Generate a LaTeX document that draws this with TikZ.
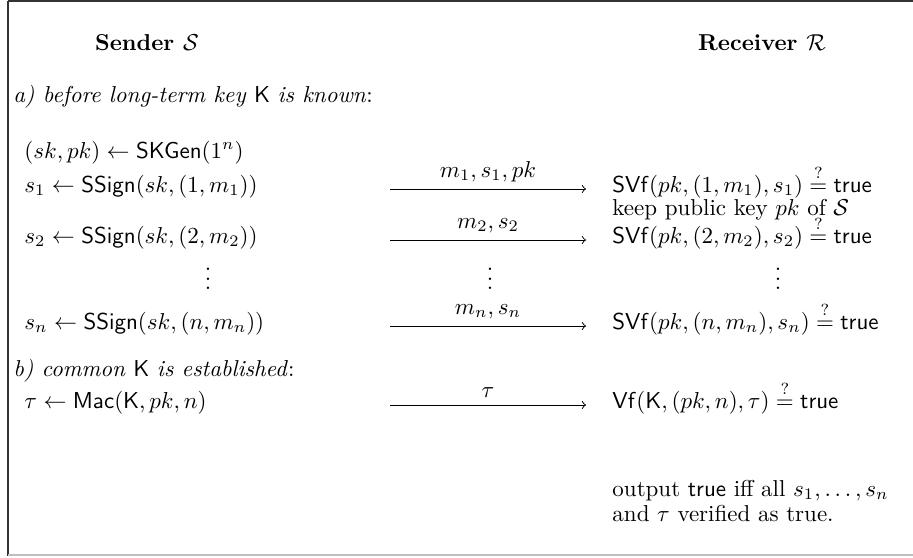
\documentclass[tikz,border=0pt]{standalone}
\usepackage{amsmath,amssymb}
\begin{document}
\begin{tikzpicture}[x=0.4348pt,y=-0.4348pt,
  txt/.style={anchor=base west,inner sep=0pt},
  hdr/.style={anchor=base,inner sep=0pt,font=\bfseries},
  dts/.style={anchor=center,inner sep=0pt},
  msg/.style={->,line width=0.4pt},
  lbl/.style={midway,above,inner sep=0pt,yshift=3pt}]
\useasboundingbox (0,0) rectangle (913,557);
\draw[line width=0.9pt,black!80] (8,1) -- (913,1);
\draw[line width=0.9pt,black!80] (8,1) -- (8,556);
\draw[line width=0.6pt,black!25] (8,555) -- (913,555);

\node[hdr] (hs) at (147,50) {Sender $\mathcal{S}$};
\node[hdr] (hr) at (762,50) {Receiver $\mathcal{R}$};

\node[txt] (pa) at (13,102) {\textit{a) before long-term key} $\mathsf{K}$ \textit{is known}:};
\node[txt] (kg) at (24,158) {$(sk,pk)\leftarrow\mathsf{SKGen}(1^n)$};

\node[txt] (l1) at (24,192) {$s_1\leftarrow\mathsf{SSign}(sk,(1,m_1))$};
\node[txt] (r1) at (612,192) {$\mathsf{SVf}(pk,(1,m_1),s_1)\stackrel{?}{=}\mathsf{true}$};
\node[txt] (kp) at (612,215) {keep public key $pk$ of $\mathcal{S}$};

\node[txt] (l2) at (24,243) {$s_2\leftarrow\mathsf{SSign}(sk,(2,m_2))$};
\node[txt] (r2) at (612,243) {$\mathsf{SVf}(pk,(2,m_2),s_2)\stackrel{?}{=}\mathsf{true}$};

\node[dts] (d1) at (208,272) {$\vdots$};
\node[dts] (d2) at (490,272) {$\vdots$};
\node[dts] (d3) at (778,272) {$\vdots$};

\node[txt] (ln) at (24,329) {$s_n\leftarrow\mathsf{SSign}(sk,(n,m_n))$};
\node[txt] (rn) at (612,329) {$\mathsf{SVf}(pk,(n,m_n),s_n)\stackrel{?}{=}\mathsf{true}$};

\node[txt] (pb) at (13,376) {\textit{b) common} $\mathsf{K}$ \textit{is established}:};
\node[txt] (lt) at (24,408) {$\tau\leftarrow\mathsf{Mac}(\mathsf{K},pk,n)$};
\node[txt] (rt) at (612,408) {$\mathsf{Vf}(\mathsf{K},(pk,n),\tau)\stackrel{?}{=}\mathsf{true}$};

\node[txt] (o1) at (612,496) {output $\mathsf{true}$ iff all $s_1,\ldots,s_n$};
\node[txt] (o2) at (612,521) {and $\tau$ verified as true.};

\coordinate (a1s) at (390,189); \coordinate (a1e) at (586,189);
\coordinate (a2s) at (390,240); \coordinate (a2e) at (586,240);
\coordinate (a3s) at (390,326); \coordinate (a3e) at (586,326);
\coordinate (a4s) at (390,405); \coordinate (a4e) at (586,405);
\draw[msg] (a1s) -- (a1e) node[lbl] {$m_1,s_1,pk$};
\draw[msg] (a2s) -- (a2e) node[lbl] {$m_2,s_2$};
\draw[msg] (a3s) -- (a3e) node[lbl] {$m_n,s_n$};
\draw[msg] (a4s) -- (a4e) node[lbl] {$\tau$};
\end{tikzpicture}
\end{document}
